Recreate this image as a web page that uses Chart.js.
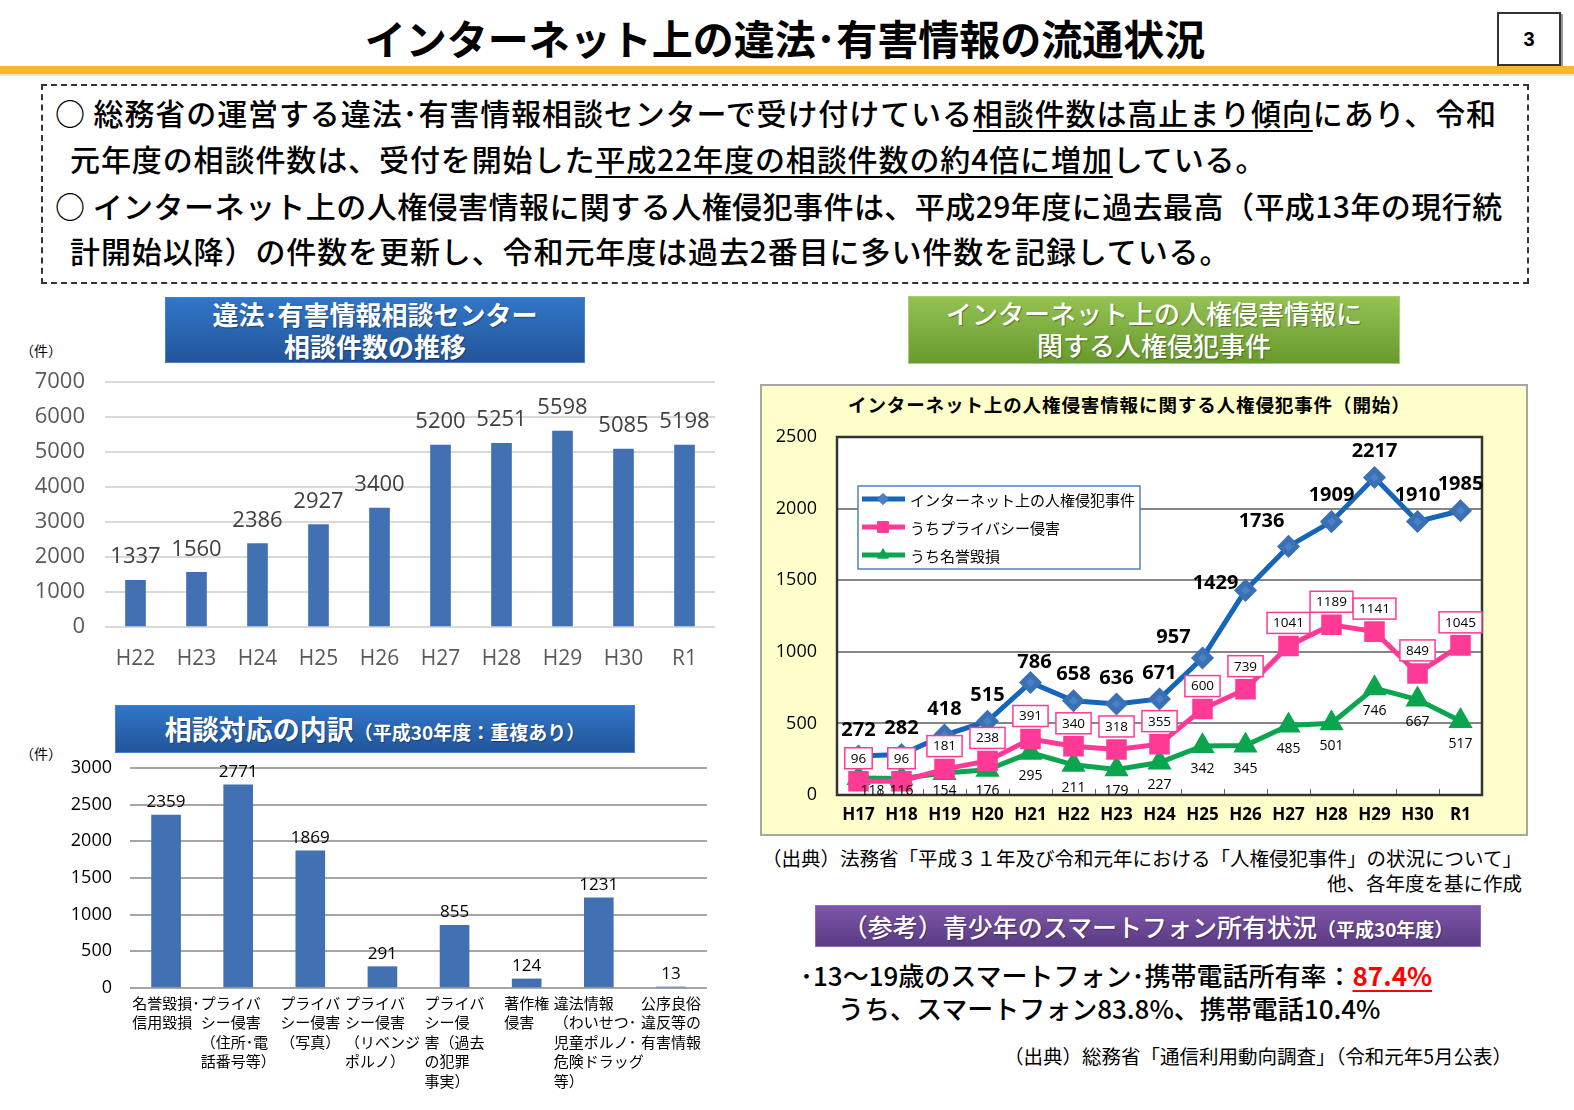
<!DOCTYPE html>
<html><head><meta charset="utf-8">
<script src="https://cdn.jsdelivr.net/npm/chart.js@4.4.0/dist/chart.umd.min.js"></script>
<style>
body{margin:0;width:1574px;height:1110px;position:relative;background:#fff;font-family:"Noto Sans CJK JP",sans-serif;overflow:hidden;color:#000}
.abs{position:absolute;white-space:nowrap}
.line{position:absolute;white-space:nowrap;font-size:30px;line-height:46px;font-weight:500;letter-spacing:0.9px}
.ul{text-decoration:underline;text-decoration-thickness:2px;text-underline-offset:5px}
.hdr{position:absolute;color:#fff;font-weight:700;text-align:center;text-shadow:1px 1px 1px rgba(0,0,0,0.35)}
canvas{position:absolute}
</style></head><body>

<div class="abs" style="left:0;top:12px;width:1570px;text-align:center;font-size:41px;font-weight:700;line-height:50px;">インターネット上の違法･有害情報の流通状況</div>
<div class="abs" style="left:1497px;top:12px;width:60px;height:50px;border:2px solid #333;box-shadow:2px 2px 0 #999;text-align:center;line-height:50px;font-size:20px;font-weight:700;font-family:'Liberation Sans',sans-serif">3</div>
<div class="abs" style="left:0;top:66px;width:1574px;height:8px;background:#fbb52f"></div>
<div class="abs" style="left:0;top:74px;width:1574px;height:2px;background:#fde3ad"></div>

<div class="abs" style="left:41px;top:84px;width:1484px;height:196px;border:2px dashed #333"></div>
<div class="line" style="left:55px;top:89px">○ 総務省の運営する違法･有害情報相談センターで受け付けている<span class="ul">相談件数は高止まり傾向</span>にあり、令和</div>
<div class="line" style="left:70px;top:135px">元年度の相談件数は、受付を開始した<span class="ul">平成22年度の相談件数の約4倍に増加</span>している。</div>
<div class="line" style="left:55px;top:182px;letter-spacing:0.45px">○ インターネット上の人権侵害情報に関する人権侵犯事件は、平成29年度に過去最高（平成13年の現行統</div>
<div class="line" style="left:70px;top:227px">計開始以降）の件数を更新し、令和元年度は過去2番目に多い件数を記録している。</div>

<div class="hdr" style="left:165px;top:297px;width:418px;height:64px;background:linear-gradient(#3176c8,#22559b);border:1px solid #4a7fc6;font-size:26px;line-height:32px">違法･有害情報相談センター<br>相談件数の推移</div>
<div class="abs" style="left:20px;top:340px;font-size:14px">（件）</div>
<canvas id="c1" width="740" height="340" style="left:0;top:350px"></canvas>

<div class="hdr" style="left:115px;top:705px;width:518px;height:46px;background:linear-gradient(#3176c8,#22559b);border:1px solid #4a7fc6;font-size:27px;line-height:46px">相談対応の内訳<span style="font-size:19px">（平成30年度：重複あり）</span></div>
<div class="abs" style="left:20px;top:743px;font-size:14px">（件）</div>
<canvas id="c2" width="740" height="350" style="left:0;top:755px"></canvas>

<div class="hdr" style="left:908px;top:296px;width:490px;height:66px;background:linear-gradient(#94c253,#689a2e);border:1px solid #a6cf70;font-size:26px;line-height:32px;font-weight:500">インターネット上の人権侵害情報に<br>関する人権侵犯事件</div>

<div class="abs" style="left:760px;top:384px;width:764px;height:448px;background:#ffffcc;border:2px solid #a6a6a6"></div>
<div class="abs" style="left:848px;top:392px;font-size:18.5px;font-weight:700;line-height:24px;letter-spacing:0.9px">インターネット上の人権侵害情報に関する人権侵犯事件（開始）</div>
<canvas id="c3" width="760" height="410" style="left:765px;top:420px"></canvas>

<div class="abs" style="right:52px;top:845px;font-size:19.5px;line-height:25px;text-align:right">（出典）法務省「平成３１年及び令和元年における「人権侵犯事件」の状況について」<br>他、各年度を基に作成</div>

<div class="hdr" style="left:815px;top:905px;width:664px;height:40px;background:linear-gradient(#7d56a8,#5b3b84);border:1px solid #8f6ab8;font-size:25px;line-height:40px;font-weight:500">（参考）青少年のスマートフォン所有状況<span style="font-size:19px;font-weight:700">（平成30年度）</span></div>

<div class="abs" style="left:800px;top:958px;font-size:26px;line-height:34px;font-weight:500">･13～19歳のスマートフォン･携帯電話所有率：<span style="color:#ff0000;font-weight:700;text-decoration:underline;text-decoration-thickness:2px;text-underline-offset:4px">87.4%</span></div>
<div class="abs" style="left:838px;top:991px;font-size:26px;line-height:34px;font-weight:500">うち、スマートフォン83.8%、携帯電話10.4%</div>
<div class="abs" style="right:62px;top:1043px;font-size:19.5px;line-height:26px">（出典）総務省「通信利用動向調査」（令和元年5月公表）</div>

<script>
// ---- Data ----
const centerYears = ['H22','H23','H24','H25','H26','H27','H28','H29','H30','R1'];
const centerCounts = [1337,1560,2386,2927,3400,5200,5251,5598,5085,5198];

const breakdownLabels = [
  ['名誉毀損･','信用毀損'],
  ['プライバ','シー侵害','（住所･電','話番号等）'],
  ['プライバ','シー侵害','（写真）'],
  ['プライバ','シー侵害','（リベンジ','ポルノ）'],
  ['プライバ','シー侵','害（過去','の犯罪','事実）'],
  ['著作権','侵害'],
  ['違法情報','（わいせつ･','児童ポルノ･','危険ドラッグ','等）'],
  ['公序良俗','違反等の','有害情報']
];
const breakdownCounts = [2359,2771,1869,291,855,124,1231,13];

const caseYears = ['H17','H18','H19','H20','H21','H22','H23','H24','H25','H26','H27','H28','H29','H30','R1'];
const internetCases = [272,282,418,515,786,658,636,671,957,1429,1736,1909,2217,1910,1985];
const privacyCases = [96,96,181,238,391,340,318,355,600,739,1041,1189,1141,849,1045];
const defamationCases = [118,116,154,176,295,211,179,227,342,345,485,501,746,667,517];
const seriesNames = ['インターネット上の人権侵犯事件','うちプライバシー侵害','うち名誉毀損'];

// ---- Styling ----
const NUM = '"Open Sans","Liberation Sans",sans-serif';
const JP = '"Noto Sans CJK JP",sans-serif';
const BAR_BLUE = '#4271b3';
const plainTick = v => String(v);
function fixY(width){ return s => { s.width = width; s.paddingTop = 0; s.paddingBottom = 0; }; }

function barValueLabels(font, color, off){
  return {id:'bv', afterDatasetsDraw(chart){
    const ctx = chart.ctx, meta = chart.getDatasetMeta(0), data = chart.data.datasets[0].data;
    ctx.save(); ctx.font = font; ctx.fillStyle = color; ctx.textAlign = 'center'; ctx.textBaseline = 'middle';
    meta.data.forEach((el,i)=>ctx.fillText(String(data[i]), el.x, el.y - off));
    ctx.restore();
  }};
}

// Chart 1
new Chart(document.getElementById('c1'), {
  type:'bar',
  data:{labels:centerYears, datasets:[{data:centerCounts, backgroundColor:BAR_BLUE, barThickness:20}]},
  options:{
    responsive:false, animation:false,
    layout:{padding:{left:0, top:32, right:25, bottom:23}},
    plugins:{legend:{display:false}, tooltip:{enabled:false}},
    scales:{
      x:{grid:{display:false, drawTicks:false}, border:{display:false},
         ticks:{font:{size:21, family:NUM}, color:'#595959', padding:19},
         afterFit:s=>{s.height=40;}},
      y:{min:0, max:7000, ticks:{stepSize:1000, callback:plainTick, font:{size:22, family:NUM}, color:'#595959', padding:20},
         grid:{color:'#d9d9d9', lineWidth:2, drawTicks:false}, border:{display:false},
         afterFit:fixY(105)}
    }
  },
  plugins:[barValueLabels('22px '+NUM, '#404040', 23)]
});

// Chart 2
const breakdownTicks = {id:'bt', afterDraw(chart){
  const ctx = chart.ctx, xs = chart.scales.x;
  ctx.save(); ctx.font = '15px '+JP; ctx.fillStyle = '#000'; ctx.textAlign = 'left'; ctx.textBaseline = 'middle';
  breakdownLabels.forEach((lines,i)=>{
    const cx = xs.getPixelForTick(i);
    const w = Math.max(...lines.map(l=>ctx.measureText(l).width));
    lines.forEach((l,j)=>ctx.fillText(l, cx - w/2, xs.top + 15 + j*19.5));
  });
  ctx.restore();
}};
new Chart(document.getElementById('c2'), {
  type:'bar',
  data:{labels:breakdownLabels, datasets:[{data:breakdownCounts, backgroundColor:BAR_BLUE, barThickness:29}]},
  options:{
    responsive:false, animation:false,
    layout:{padding:{left:0, top:13, right:33, bottom:12}},
    plugins:{legend:{display:false}, tooltip:{enabled:false}},
    scales:{
      x:{grid:{display:false, drawTicks:false}, border:{display:false}, ticks:{display:false},
         afterFit:s=>{s.height=105;}},
      y:{min:0, max:3000, ticks:{stepSize:500, callback:plainTick, font:{size:18, family:NUM}, color:'#000', padding:18},
         grid:{color:'#a6a6a6', lineWidth:2, drawTicks:false}, border:{display:false},
         afterFit:fixY(130)}
    }
  },
  plugins:[barValueLabels('17px '+NUM, '#000', 13), breakdownTicks]
});

// Chart 3
const deco3 = {id:'deco3',
  beforeDraw(chart){
    const ctx = chart.ctx, a = chart.chartArea;
    ctx.save(); ctx.fillStyle = '#fff'; ctx.fillRect(a.left, a.top, a.right-a.left, a.bottom-a.top); ctx.restore();
  },
  afterDraw(chart){
    const ctx = chart.ctx, a = chart.chartArea;
    ctx.save();
    ctx.strokeStyle = '#666'; ctx.lineWidth = 1;
    const n = chart.data.labels.length, step = (a.right - a.left)/n;
    for (let i=1;i<n;i++){ const x = Math.round(a.left + i*step)+0.5; ctx.beginPath(); ctx.moveTo(x, a.bottom); ctx.lineTo(x, a.bottom-6); ctx.stroke(); }
    ctx.strokeStyle = '#333'; ctx.lineWidth = 2.5;
    ctx.strokeRect(a.left, a.top, a.right-a.left, a.bottom-a.top);

    const ds = chart.data.datasets;
    const over0 = {4:[4,-20], 8:[-29,-21], 9:[-30,-7], 10:[-27,-25]};
    ctx.font = 'bold 20px '+NUM; ctx.fillStyle = '#000'; ctx.textAlign = 'center'; ctx.textBaseline = 'middle';
    chart.getDatasetMeta(0).data.forEach((p,i)=>{
      const o = over0[i] || [0,-26];
      ctx.fillText(String(ds[0].data[i]), p.x + o[0], p.y + o[1]);
    });
    ctx.font = '13.5px '+NUM;
    chart.getDatasetMeta(1).data.forEach((p,i)=>{
      const t = String(ds[1].data[i]); const w = ctx.measureText(t).width + 12, h = 21;
      const cx = p.x, cy = p.y - 23;
      ctx.fillStyle = '#fff'; ctx.fillRect(cx-w/2, cy-h/2, w, h);
      ctx.strokeStyle = '#ff3a96'; ctx.lineWidth = 1.5; ctx.strokeRect(cx-w/2, cy-h/2, w, h);
      ctx.fillStyle = '#000'; ctx.fillText(t, cx, cy+0.5);
    });
    const over2 = {0:[14,0]};
    ctx.font = '14px '+NUM; ctx.fillStyle = '#000';
    chart.getDatasetMeta(2).data.forEach((p,i)=>{
      const o = over2[i] || [0,0];
      const y = Math.min(p.y + 23, a.bottom - 4);
      ctx.fillText(String(ds[2].data[i]), p.x + o[0], y + o[1]);
    });

    const lx = a.left + 21, ly = a.top + 49, lw = 282, lh = 83;
    ctx.fillStyle = '#fff'; ctx.fillRect(lx, ly, lw, lh);
    ctx.strokeStyle = '#4f81bd'; ctx.lineWidth = 1.5; ctx.strokeRect(lx, ly, lw, lh);
    ds.forEach((d,k)=>{
      const y = ly + 13 + k*28;
      ctx.strokeStyle = d.borderColor; ctx.lineWidth = 5;
      ctx.beginPath(); ctx.moveTo(lx+4, y); ctx.lineTo(lx+47, y); ctx.stroke();
      ctx.fillStyle = d.pointBackgroundColor; ctx.strokeStyle = d.pointBorderColor; ctx.lineWidth = 1;
      Chart.helpers.drawPoint(ctx, {pointStyle:d.pointStyle, radius:d.pointRadius*0.7, rotation:0, borderWidth:1}, lx+25, y);
      ctx.fillStyle = '#000'; ctx.font = '15px '+JP; ctx.textAlign = 'left';
      ctx.fillText(d.label, lx+52, y+1);
      ctx.textAlign = 'center';
    });
    ctx.restore();
  }
};
new Chart(document.getElementById('c3'), {
  type:'line',
  data:{labels:caseYears, datasets:[
    {label:seriesNames[0], data:internetCases, borderColor:'#1565b8', pointBackgroundColor:'#4a80c4', pointBorderColor:'#3a70b4', pointStyle:'rectRot', pointRadius:8, borderWidth:5, tension:0},
    {label:seriesNames[1], data:privacyCases, borderColor:'#ff3a96', pointBackgroundColor:'#ff3a96', pointBorderColor:'#ff3a96', pointStyle:'rect', pointRadius:11, borderWidth:5, tension:0},
    {label:seriesNames[2], data:defamationCases, borderColor:'#0ca54f', pointBackgroundColor:'#0ca54f', pointBorderColor:'#0ca54f', pointStyle:'triangle', pointRadius:9, borderWidth:5, tension:0}
  ]},
  options:{
    responsive:false, animation:false,
    layout:{padding:{left:0, top:17, right:43, bottom:5}},
    plugins:{legend:{display:false}, tooltip:{enabled:false}},
    scales:{
      x:{offset:true, grid:{display:false, drawTicks:false}, border:{display:false},
         ticks:{font:{size:17, family:NUM, weight:'bold'}, color:'#000', padding:10},
         afterFit:s=>{s.height=30;}},
      y:{min:0, max:2500, ticks:{stepSize:500, callback:plainTick, font:{size:18, family:NUM}, color:'#000', padding:20},
         grid:{color:'#868686', lineWidth:2, drawTicks:false}, border:{display:false},
         afterFit:fixY(72)}
    }
  },
  plugins:[deco3]
});
</script>
</body></html>
